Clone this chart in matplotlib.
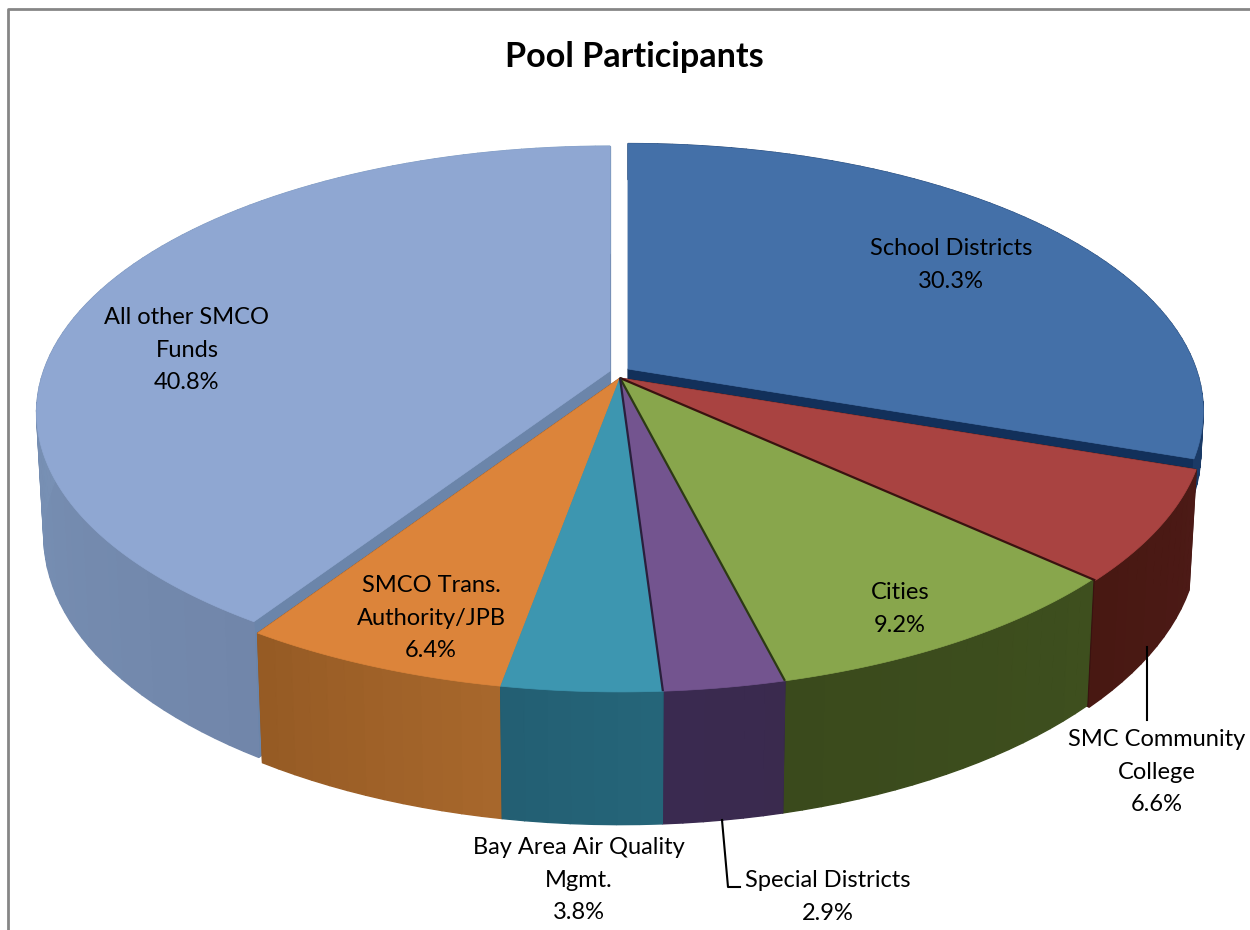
import numpy as np
import matplotlib
matplotlib.use("Agg")
import matplotlib.pyplot as plt
from matplotlib.patches import Polygon

plt.rcParams['font.family'] = ['Lato', 'DejaVu Sans']

title = "Pool Participants"
categories = ["School Districts", "SMC Community\nCollege", "Cities", "Special Districts",
              "Bay Area Air Quality\nMgmt.", "SMCO Trans.\nAuthority/JPB", "All other SMCO\nFunds"]
values = [30.3, 6.6, 9.2, 2.9, 3.8, 6.4, 40.8]
top_colors = ["#4470a8", "#a94341", "#88a64c", "#73548f", "#3d96b0", "#dc843a", "#8fa7d2"]
wall_start = ["#1d3f6e", "#4c1a16", "#3e4f1e", "#3a2a4e", "#25657a", "#a8672c", "#82a0c4"]
wall_end = ["#1a3a66", "#481812", "#3a4a1c", "#3a2a50", "#235e72", "#955a24", "#7186aa"]
cut_colors = ["#12305a", "#3a1210", "#2c3a14", "#2a1f3c", "#1d5060", "#8a5020", "#6b85aa"]

# projection geometry
CX, CY, A, B, K, DEPTH, M = 620, 378, 575, 264, 0.159, 117, 0.012
shift = {0: (8, -9), 6: (-10, -7)}
radius = {0: 0.988, 1: 1.005, 6: 0.985}
height = {0: 0.35, 6: 1.05}


def project(x, y, h, i):
    w = 1 + K * y + M * h
    dx, dy = shift.get(i, (0, 0))
    return CX + dx + A * x / w, CY + dy + (-B * y + DEPTH * h) / w


def rim(i, t, h):
    r = radius.get(i, 1.0)
    return project(r * np.sin(t), r * np.cos(t), h, i)


def hex2rgb(c):
    return np.array(matplotlib.colors.to_rgb(c))


fig = plt.figure(figsize=(12.5, 9.3), dpi=100)
ax = fig.add_axes([0, 0, 1, 1])
ax.set_xlim(0, 1250)
ax.set_ylim(930, 0)
ax.axis("off")

edges = np.concatenate([[0], np.cumsum(values)]) / np.sum(values) * 2 * np.pi
order = [0, 6, 1, 2, 5, 3, 4]

# walls
for i in order:
    t0, t1 = edges[i], edges[i + 1]
    n = max(6, int((t1 - t0) / 0.03))
    ts = np.linspace(t0, t1, n + 1)
    c0, c1 = hex2rgb(wall_start[i]), hex2rgb(wall_end[i])
    if i == 6:
        c0, c1 = c1, c0
    h = height.get(i, 1.0)
    # straight cut faces
    for t in (t0, t1):
        ox, oy = project(0, 0, 0, i)
        bx, by = project(0, 0, h, i)
        rx, ry = rim(i, t, 0)
        sx, sy = rim(i, t, h)
        ax.add_patch(Polygon([(ox, oy), (rx, ry), (sx, sy), (bx, by)],
                             closed=True, fc=cut_colors[i], ec=cut_colors[i], lw=0.8, zorder=2))
    for j in range(n):
        a, b = ts[j], ts[j + 1]
        xa, ya = rim(i, a, 0)
        xb, yb = rim(i, b, 0)
        xc, yc = rim(i, b, h)
        xd, yd = rim(i, a, h)
        c = c0 + (c1 - c0) * (j + 0.5) / n
        ax.add_patch(Polygon([(xa, ya), (xb, yb), (xc, yc), (xd, yd)],
                             closed=True, fc=c, ec=c, lw=1.0, zorder=2))

# top faces
for i in order:
    ts = np.linspace(edges[i], edges[i + 1], 200)
    xs, ys = rim(i, ts, 0)
    ox, oy = project(0, 0, 0, i)
    pts = np.vstack([[ox, oy], np.column_stack([xs, ys])])
    ax.add_patch(Polygon(pts, closed=True, fc=top_colors[i], ec=top_colors[i], lw=0.5, zorder=3))

# dark seams between front slices
for i in [1, 2, 3]:
    t = edges[i + 1]
    ox, oy = project(0, 0, 0, i)
    rx, ry = rim(i, t, 0)
    ax.plot([ox, rx], [oy, ry], color=cut_colors[i], lw=1.6, zorder=4, solid_capstyle="butt")

# label text
ax.text(634, 57, title, ha="center", va="center", fontsize=24.6, fontweight="bold", color="black", zorder=6)
label_pos = [(951, 265), (1157, 772), (900, 609), (828, 897), (579, 880), (431, 618), (187, 350)]
for name, v, (lx, ly) in zip(categories, values, label_pos):
    ax.text(lx, ly, f"{name}\n{v:.1f}%", ha="center", va="center", fontsize=17,
            linespacing=1.66, color="black", zorder=6)

# leader lines
ax.plot([1147, 1147], [647, 720], color="black", lw=1.5, zorder=5)
ax.plot([722, 728, 740], [820, 887, 887], color="black", lw=1.5, zorder=5)

# chart frame (only left and top edges are visible in the crop)
ax.plot([8, 8, 1250], [930, 9, 9], color="#868686", lw=2, zorder=1, clip_on=False)

fig.savefig("out.png", dpi=100)
